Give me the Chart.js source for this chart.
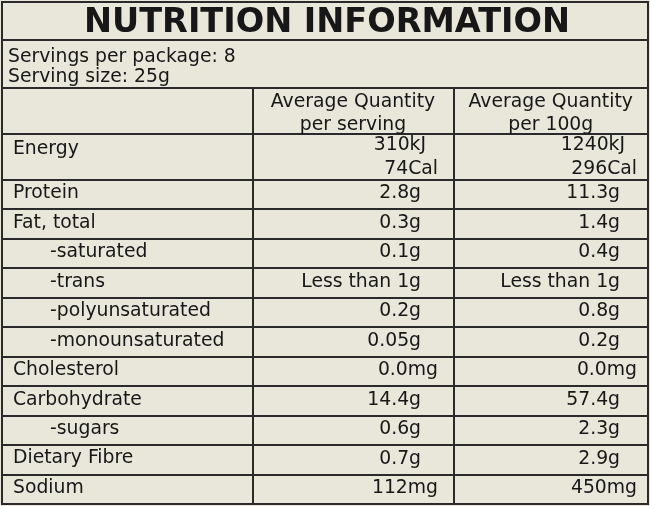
<!DOCTYPE html>
<html>
<head>
<meta charset="utf-8">
<script src="https://cdn.jsdelivr.net/npm/chart.js@4.4.1/dist/chart.umd.min.js"></script>
<style>
  html, body { margin: 0; padding: 0; background: #e9e6da; }
  #wrap { width: 650px; height: 506px; }
</style>
</head>
<body>
<div id="wrap"><canvas id="panel" width="650" height="506"></canvas></div>
<script>
// table content
const title = 'NUTRITION INFORMATION';
const servingInfo = ['Servings per package: 8', 'Serving size: 25g'];
const columnHeaders = [['Average Quantity', 'per serving'], ['Average Quantity', 'per 100g']];
const nutrients = ['Energy', 'Protein', 'Fat, total', '-saturated', '-trans', '-polyunsaturated',
  '-monounsaturated', 'Cholesterol', 'Carbohydrate', '-sugars', 'Dietary Fibre', 'Sodium'];
const perServing = [['310kJ', '74Cal'], '2.8g', '0.3g', '0.1g', 'Less than 1g', '0.2g', '0.05g',
  '0.0mg', '14.4g', '0.6g', '0.7g', '112mg'];
const per100g = [['1240kJ', '296Cal'], '11.3g', '1.4g', '0.4g', 'Less than 1g', '0.8g', '0.2g',
  '0.0mg', '57.4g', '2.3g', '2.9g', '450mg'];

// layout (scale units = px inside the border)
const BG = '#e9e6da';
const INK = '#171717';
const LINE = '#2a2a2a';
const FONT = '"DejaVu Sans", Verdana, sans-serif';
const TITLE_H = 38, SERV_H = 48, HEAD_H = 46, ENERGY_H = 46, ROW_H = 325 / 11;
const WIDTH = 646;
const colEdges = [0, 250.5, 451.5, WIDTH];
const valueRight = [436, 635];
const LABEL_X = 11, INDENT_X = 48;
const BASE = 18.5; // baseline offset inside a plain row

const rowHeights = nutrients.map((n, i) => Array.isArray(perServing[i]) ? ENERGY_H : ROW_H);
const bodyTop = TITLE_H + SERV_H + HEAD_H;
const rowTops = [];
rowHeights.reduce((acc, h) => { rowTops.push(acc); return acc + h; }, bodyTop);
const TOTAL = bodyTop + rowHeights.reduce((a, b) => a + b, 0);

// pad by unit so the numbers line up like on the label
function unitPad(v) {
  if (/mg$|Cal$/.test(v)) return 0;
  if (/kJ$/.test(v)) return 12;
  return 17;
}

function cellPoints(values, col) {
  return values.map((v, i) => ({ x: valueRight[col], y: rowTops[i], v: v }));
}

const tablePlugin = {
  id: 'nutritionTable',
  beforeDatasetsDraw(chart) {
    const { ctx, scales: { x, y } } = chart;
    const px = v => Math.round(x.getPixelForValue(v));
    const py = v => Math.round(y.getPixelForValue(v));
    ctx.save();
    ctx.fillStyle = BG;
    ctx.fillRect(px(0), py(0), px(WIDTH) - px(0), py(TOTAL) - py(0));
    ctx.strokeStyle = LINE;
    ctx.lineWidth = 2;
    ctx.beginPath();
    // horizontal rules
    const hLines = [TITLE_H, TITLE_H + SERV_H, bodyTop].concat(rowTops.slice(1));
    hLines.forEach(v => { ctx.moveTo(px(0), py(v)); ctx.lineTo(px(WIDTH), py(v)); });
    // column dividers
    [colEdges[1], colEdges[2]].forEach(v => {
      ctx.moveTo(px(v), py(TITLE_H + SERV_H)); ctx.lineTo(px(v), py(TOTAL));
    });
    ctx.stroke();
    ctx.strokeRect(px(0), py(0), px(WIDTH) - px(0), py(TOTAL) - py(0));
    ctx.restore();
  },
  afterDatasetsDraw(chart) {
    const { ctx, scales: { x, y } } = chart;
    ctx.save();
    ctx.fillStyle = INK;
    ctx.textBaseline = 'alphabetic';

    // title
    ctx.font = 'bold 33.5px ' + FONT;
    ctx.textAlign = 'center';
    ctx.fillText(title, x.getPixelForValue(WIDTH / 2) + 2, y.getPixelForValue(30.5));

    ctx.font = '18.8px ' + FONT;
    ctx.textAlign = 'left';
    servingInfo.forEach((s, i) => {
      ctx.fillText(s, x.getPixelForValue(6), y.getPixelForValue(TITLE_H + 22 + i * 20));
    });

    // column headers
    ctx.textAlign = 'center';
    columnHeaders.forEach((lines, c) => {
      const cx = x.getPixelForValue((colEdges[c + 1] + colEdges[c + 2]) / 2);
      lines.forEach((t, i) => {
        ctx.fillText(t, cx, y.getPixelForValue(TITLE_H + SERV_H + 19 + i * 23));
      });
    });

    // nutrient names
    ctx.textAlign = 'left';
    nutrients.forEach((n, i) => {
      const lx = n.startsWith('-') ? INDENT_X : LABEL_X;
      const by = rowHeights[i] === ROW_H ? rowTops[i] + BASE : rowTops[i] + 20;
      ctx.fillText(n, x.getPixelForValue(lx), y.getPixelForValue(by));
    });

    // values, placed at the dataset points
    ctx.textAlign = 'right';
    chart.data.datasets.forEach((ds, d) => {
      const meta = chart.getDatasetMeta(d);
      meta.data.forEach((pt, i) => {
        const raw = ds.data[i].v;
        const lines = Array.isArray(raw) ? raw : [raw];
        lines.forEach((t, k) => {
          const off = Array.isArray(raw) ? 16 + k * 24 : BASE;
          ctx.fillText(t, pt.x - unitPad(t), pt.y + off);
        });
      });
    });
    ctx.restore();
  }
};

new Chart(document.getElementById('panel'), {
  type: 'scatter',
  data: {
    datasets: [
      { label: 'Average Quantity per serving', data: cellPoints(perServing, 0), pointRadius: 0 },
      { label: 'Average Quantity per 100g', data: cellPoints(per100g, 1), pointRadius: 0 }
    ]
  },
  options: {
    responsive: false,
    animation: false,
    layout: { padding: { left: 2, right: 2, top: 2, bottom: 2 } },
    scales: {
      x: { type: 'linear', display: false, min: 0, max: WIDTH },
      y: { type: 'linear', display: false, min: 0, max: TOTAL, reverse: true }
    },
    plugins: { legend: { display: false }, tooltip: { enabled: false } }
  },
  plugins: [tablePlugin]
});
</script>
</body>
</html>
